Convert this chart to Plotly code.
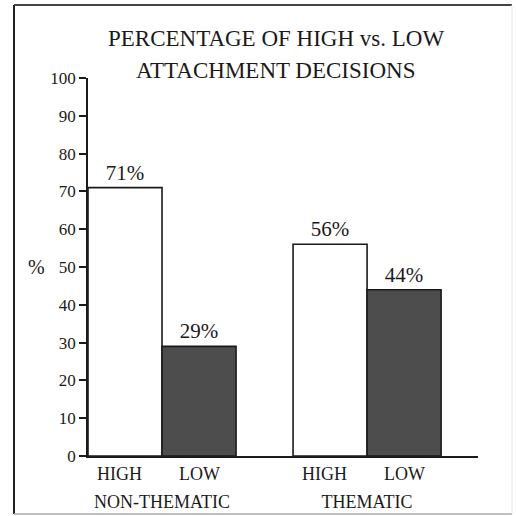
import plotly.graph_objects as go

# ---- data ----
conditions = ["NON-THEMATIC", "THEMATIC"]
series_names = ["HIGH", "LOW"]
high_pct = [71, 56]
low_pct = [29, 44]
y_ticks = [0, 10, 20, 30, 40, 50, 60, 70, 80, 90, 100]
title_lines = ["PERCENTAGE OF HIGH vs. LOW", "ATTACHMENT DECISIONS"]

# ---- layout constants (pixels) ----
W, H = 516, 516
L, R, T, B = 88, 38, 78, 60
PW, PH = W - L - R, H - T - B
FONT = "Liberation Serif"
INK = "#1a1a1a"
BAR_SHIFT = 37  # px offset of each bar center from group center


def px_x(x):
    return (x - L) / PW


def px_y(y):
    return (H - B - y) / PH


fig = go.Figure()
fills = ["white", "#4d4d4d"]
for name, vals, fill in zip(series_names, [high_pct, low_pct], fills):
    fig.add_trace(go.Bar(
        name=name, x=conditions, y=vals,
        marker=dict(color=fill, line=dict(color=INK, width=1.6)),
        texttemplate="%{y}%", textposition="outside", cliponaxis=False,
        textfont=dict(family=FONT, size=21, color=INK),
    ))

# HIGH / LOW labels under each bar
for cond in conditions:
    for name, shift in zip(series_names, [-BAR_SHIFT - 6, BAR_SHIFT]):
        fig.add_annotation(
            x=cond, y=0, xref="x", yref="y", text=name, showarrow=False,
            xshift=shift, yshift=-18, yanchor="middle",
            font=dict(family=FONT, size=18, color=INK),
        )

# title lines
for line, ypx in zip(title_lines, [38, 70]):
    fig.add_annotation(
        x=px_x(276), y=px_y(ypx), xref="paper", yref="paper", text=line,
        showarrow=False, xanchor="center", yanchor="middle",
        font=dict(family=FONT, size=23, color=INK),
    )

# "%" axis label
fig.add_annotation(
    x=px_x(36), y=50, xref="paper", yref="y", text="%", showarrow=False,
    xanchor="center", yanchor="middle",
    font=dict(family=FONT, size=20, color=INK),
)

# outer frame
frame = [
    (14, 5, 14, 514, "#222222", 2),
    (14, 5, 512, 5, "#444444", 2),
    (14, 514, 512, 514, "#aaaaaa", 1.5),
    (512, 5, 512, 514, "#e6e6e6", 1),
]
for x0, y0, x1, y1, c, w in frame:
    fig.add_shape(type="line", xref="paper", yref="paper",
                  x0=px_x(x0), y0=px_y(y0), x1=px_x(x1), y1=px_y(y1),
                  line=dict(color=c, width=w))

fig.update_layout(
    width=W, height=H,
    margin=dict(l=L, r=R, t=T, b=B, autoexpand=False),
    paper_bgcolor="white", plot_bgcolor="white",
    barmode="group", bargap=0.278, bargroupgap=0,
    showlegend=False,
    font=dict(family=FONT, color=INK),
)
fig.update_xaxes(
    range=[-0.361, 1.541], showline=True, linecolor=INK, linewidth=1.6,
    ticks="", showgrid=False, zeroline=False, automargin=False,
    tickfont=dict(family=FONT, size=18, color=INK),
    ticklabelstandoff=29,
)
fig.update_yaxes(
    range=[0, 100], tickvals=y_ticks, showline=True, linecolor=INK,
    linewidth=1.6, ticks="outside", ticklen=7, tickwidth=1.6,
    tickcolor=INK, showgrid=False, zeroline=False, automargin=False,
    tickfont=dict(family=FONT, size=17, color=INK),
)

fig.write_html(
    "out.html",
    config={"displayModeBar": False},
    post_script="document.body.style.margin='0';document.body.style.overflow='hidden';",
)
